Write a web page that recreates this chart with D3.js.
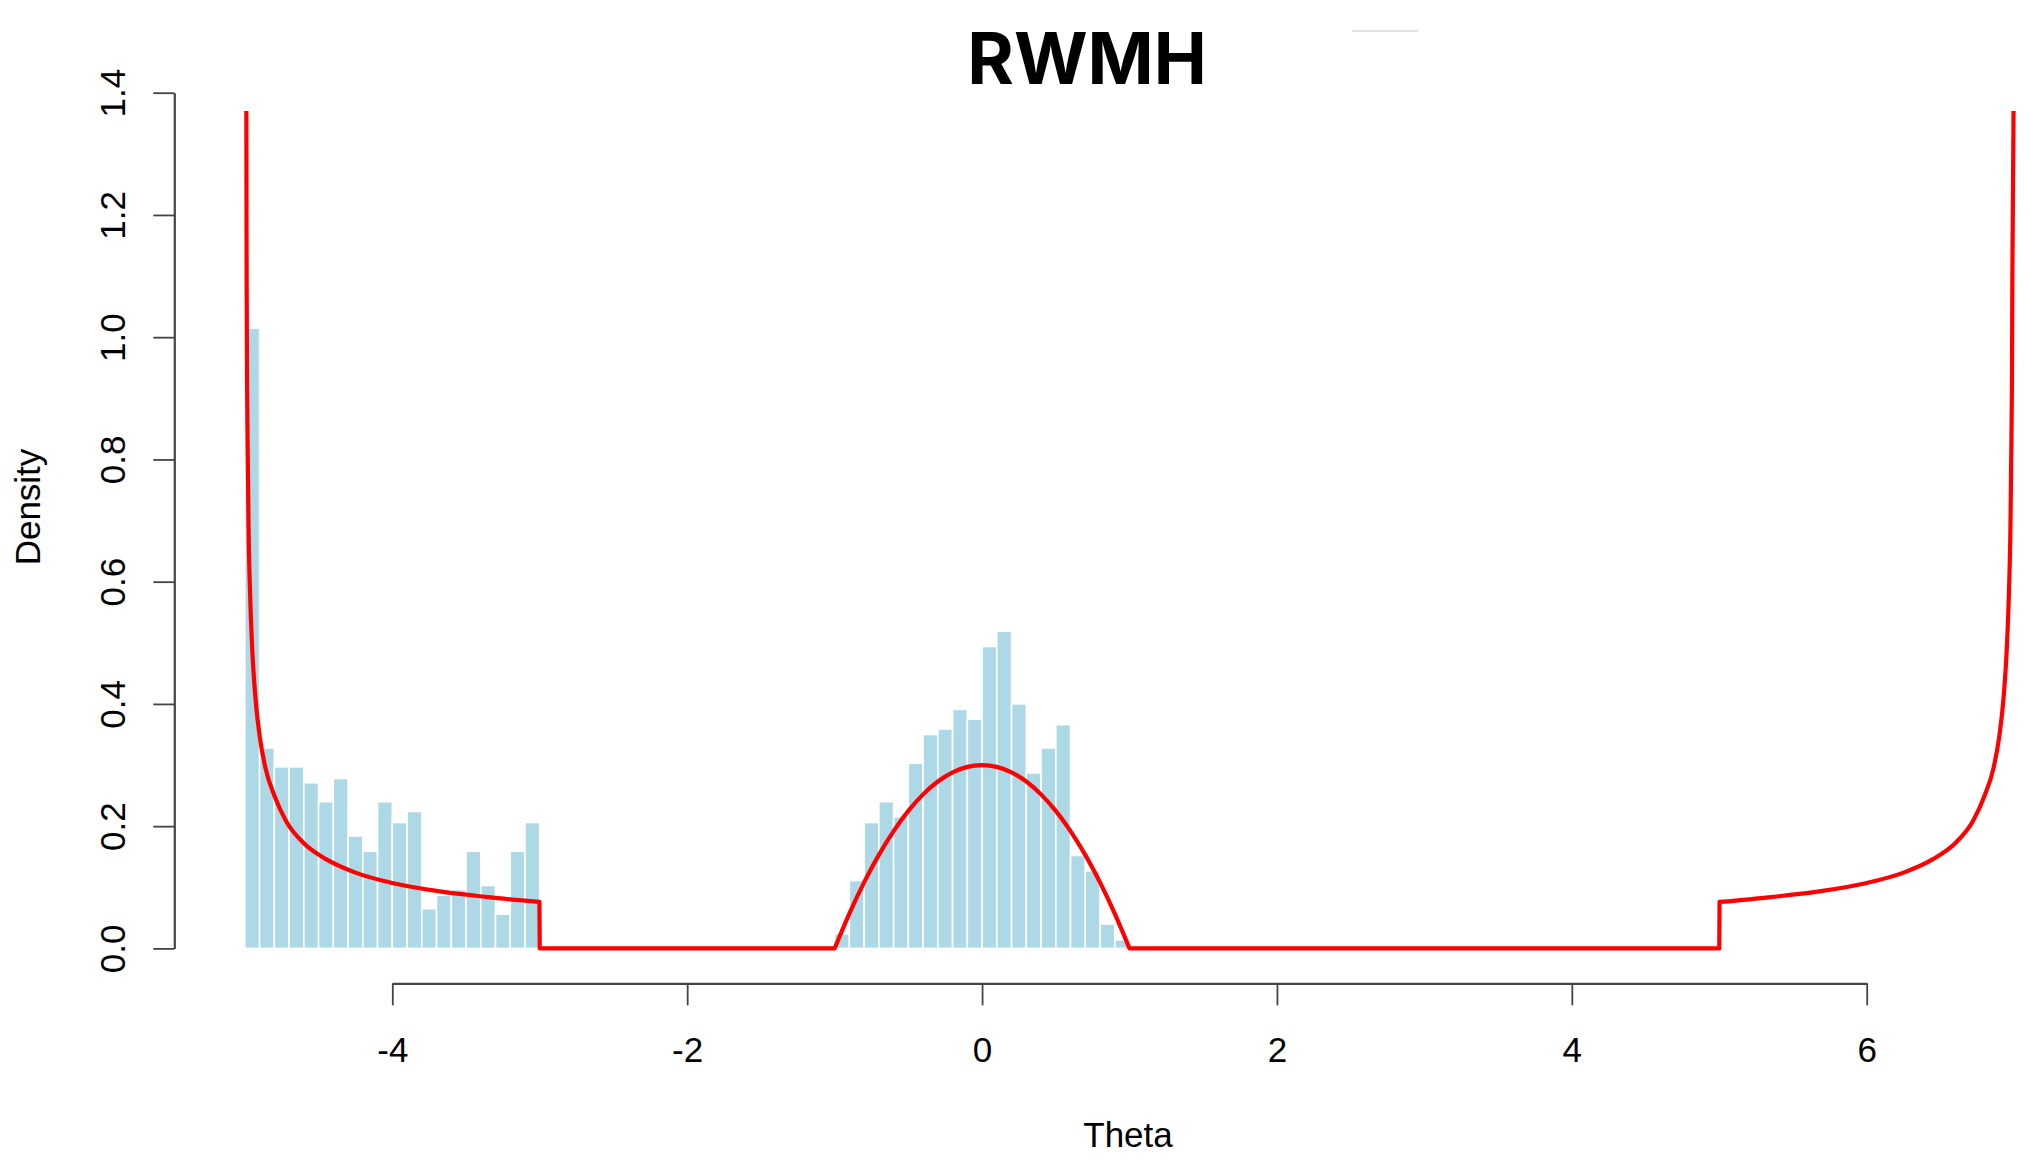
<!DOCTYPE html>
<html>
<head>
<meta charset="utf-8">
<script src="https://cdn.jsdelivr.net/npm/d3@7/dist/d3.min.js"></script>
<style>
  html, body { margin: 0; padding: 0; background: #ffffff; }
  svg { display: block; }
  .tick text { font-family: "Liberation Sans", Arial, Helvetica, sans-serif; fill: #000; }
</style>
</head>
<body>
<svg id="chart" width="2030" height="1166"></svg>
<script>
// Histogram of sampled theta values (density scale, bin width 0.1)
const binWidth = 0.1;
const leftBinStart = -5;
const leftBinDensity = [1.015, 0.328, 0.297, 0.297, 0.271, 0.240, 0.278, 0.184, 0.159, 0.240,
                        0.206, 0.224, 0.065, 0.087, 0.096, 0.159, 0.103, 0.056, 0.159, 0.206];
const centerBinStart = -1;
const centerBinDensity = [0.024, 0.111, 0.206, 0.240, 0.215, 0.303, 0.350, 0.359, 0.391, 0.375,
                          0.494, 0.519, 0.400, 0.287, 0.328, 0.366, 0.152, 0.127, 0.040, 0.014];

// Target density, piece by piece
const leftTailTheta   = [-4.990, -4.988, -4.985, -4.980, -4.975, -4.965, -4.950, -4.930, -4.900, -4.860,
                         -4.800, -4.720, -4.600, -4.450, -4.250, -4.000, -3.700, -3.350, -3.002];
const leftTailDensity = [1.370, 1.100, 0.920, 0.800, 0.690, 0.585, 0.490, 0.415, 0.348, 0.295,
                         0.250, 0.208, 0.172, 0.146, 0.124, 0.107, 0.094, 0.084, 0.076];
const gapLeftTheta    = [-3.000, -1.000];
const gapLeftDensity  = [0, 0];
const bumpTheta   = [-1.0, -0.9, -0.8, -0.7, -0.6, -0.5, -0.4, -0.3, -0.2, -0.1, 0.0,
                      0.1, 0.2, 0.3, 0.4, 0.5, 0.6, 0.7, 0.8, 0.9, 1.0];
const bumpDensity = [0.000, 0.057, 0.108, 0.153, 0.192, 0.225, 0.252, 0.273, 0.288, 0.297, 0.300,
                     0.297, 0.288, 0.273, 0.252, 0.225, 0.192, 0.153, 0.108, 0.057, 0.000];
const gapRightTheta   = [1.000, 5.000];
const gapRightDensity = [0, 0];
const rightTailTheta   = [5.002, 5.350, 5.700, 6.000, 6.250, 6.450, 6.600, 6.720, 6.800, 6.860,
                          6.900, 6.930, 6.950, 6.965, 6.975, 6.980, 6.985, 6.988, 6.996];
const rightTailDensity = [0.076, 0.084, 0.094, 0.107, 0.124, 0.146, 0.172, 0.208, 0.250, 0.295,
                          0.348, 0.415, 0.490, 0.585, 0.690, 0.800, 0.920, 1.100, 1.370];

const xTicks = [-4, -2, 0, 2, 4, 6];
const yTicks = [0, 0.2, 0.4, 0.6, 0.8, 1.0, 1.2, 1.4];

const titleText = "RWMH";
const xLabel = "Theta";
const yLabel = "Density";

const svg = d3.select("#chart");

const x = d3.scaleLinear().domain([-4, 6]).range([392.3, 1866.7]);
const y = d3.scaleLinear().domain([0, 1.4]).range([948.4, 92.7]);

// Histogram bars
const bars = [];
leftBinDensity.forEach((d, i) => bars.push({ x0: leftBinStart + i * binWidth, v: d }));
centerBinDensity.forEach((d, i) => bars.push({ x0: centerBinStart + i * binWidth, v: d }));

svg.append("g")
  .selectAll("rect")
  .data(bars)
  .join("rect")
  .attr("x", d => x(d.x0))
  .attr("width", d => x(d.x0 + binWidth) - x(d.x0))
  .attr("y", d => y(d.v))
  .attr("height", d => y(0) - y(d.v))
  .attr("fill", "#add8e6")
  .attr("stroke", "#ffffff")
  .attr("stroke-width", 1.6);

// Density curve: smooth pieces joined by straight jumps
const zipPts = (t, v) => t.map((d, i) => [d, v[i]]);
const pieces = [
  zipPts(leftTailTheta, leftTailDensity),
  zipPts(gapLeftTheta, gapLeftDensity),
  zipPts(bumpTheta, bumpDensity),
  zipPts(gapRightTheta, gapRightDensity),
  zipPts(rightTailTheta, rightTailDensity)
];
const line = d3.line().x(d => x(d[0])).y(d => y(d[1])).curve(d3.curveMonotoneX);
const pathStr = pieces.map((p, i) => {
  const s = line(p);
  return i === 0 ? s : "L" + s.slice(1);
}).join("");

svg.append("path")
  .attr("d", pathStr)
  .attr("fill", "none")
  .attr("stroke", "#ff0000")
  .attr("stroke-width", 4.2)
  .attr("stroke-linejoin", "round");

// X axis
const xAxis = svg.append("g")
  .attr("transform", "translate(0,983.3)")
  .call(d3.axisBottom(x).tickValues(xTicks).tickSize(22).tickSizeOuter(0).tickFormat(d3.format("d")));
xAxis.select(".domain").attr("stroke", "#444").attr("stroke-width", 2.2);
xAxis.selectAll(".tick line").attr("stroke", "#444").attr("stroke-width", 1.8);
xAxis.selectAll(".tick text")
  .attr("y", 79).attr("dy", null)
  .attr("font-size", 35)
  .text(d => d < 0 ? "-" + Math.abs(d) : String(d));

// Y axis with labels parallel to the axis
const yAxis = svg.append("g")
  .attr("transform", "translate(174.3,0)")
  .call(d3.axisLeft(y).tickValues(yTicks).tickSize(21).tickSizeOuter(0).tickFormat(d3.format(".1f")));
yAxis.select(".domain").attr("stroke", "#444").attr("stroke-width", 2.2);
yAxis.selectAll(".tick line").attr("stroke", "#444").attr("stroke-width", 1.8);
yAxis.selectAll(".tick text")
  .attr("x", null).attr("dy", null)
  .attr("text-anchor", "middle")
  .attr("transform", "translate(-49,0) rotate(-90)")
  .attr("font-size", 35);

// Axis titles
svg.append("text")
  .attr("x", 1128).attr("y", 1147)
  .attr("text-anchor", "middle")
  .attr("font-family", "'Liberation Sans', Arial, sans-serif")
  .attr("font-size", 35)
  .text(xLabel);

svg.append("text")
  .attr("transform", "translate(40,507) rotate(-90)")
  .attr("text-anchor", "middle")
  .attr("font-family", "'Liberation Sans', Arial, sans-serif")
  .attr("font-size", 35)
  .text(yLabel);

// Title
svg.append("text")
  .attr("x", 1087).attr("y", 84)
  .attr("text-anchor", "middle")
  .attr("font-family", "Inter, 'Open Sans', sans-serif")
  .attr("font-weight", 700)
  .attr("font-size", 71)
  .text(titleText);

// faint stroke beside the title
svg.append("line")
  .attr("x1", 1352).attr("x2", 1418).attr("y1", 31).attr("y2", 31)
  .attr("stroke", "#e2e2e2").attr("stroke-width", 2);
</script>
</body>
</html>
